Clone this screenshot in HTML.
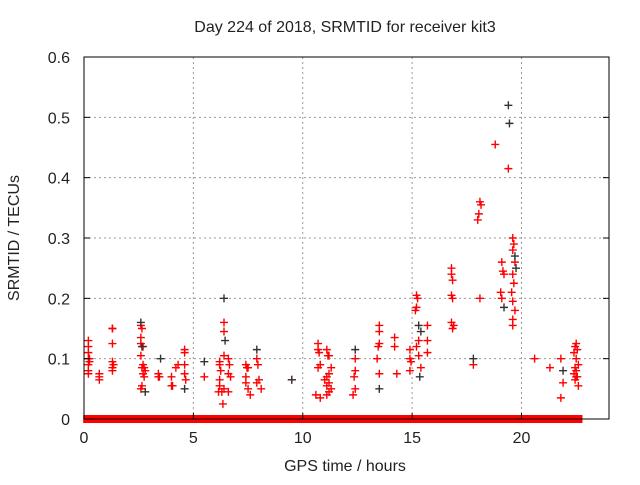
<!DOCTYPE html>
<html><head><meta charset="utf-8"><style>
body{margin:0;background:#fff;}
svg text{font-family:"Liberation Sans",sans-serif;font-size:16px;fill:#222;}
</style></head><body>
<svg width="640" height="480">
<rect width="640" height="480" fill="#fff"/>
<g id="grid"></g><g id="marks"></g><g id="axes"></g>
<text x="345" y="32" text-anchor="middle">Day 224 of 2018, SRMTID for receiver kit3</text>
<text x="345" y="471" text-anchor="middle">GPS time / hours</text>
<text transform="translate(19,238) rotate(-90)" text-anchor="middle">SRMTID / TECUs</text>
</svg>
<script>
const xTicks=[0,5,10,15,20];
const yTicks=[0,0.1,0.2,0.3,0.4,0.5,0.6];
const yLabels=["0","0.1","0.2","0.3","0.4","0.5","0.6"];
const redT=[0.2,0.2,0.2,0.2,0.25,0.25,0.2,0.2,0.2,0.7,0.7,0.7,1.3,1.3,1.3,1.3,1.35,1.3,1.3,2.6,2.65,2.6,2.6,2.7,2.6,2.7,2.65,2.75,2.8,2.7,2.75,2.65,2.6,3.4,3.4,3.45,4.0,4.0,4.05,4.2,4.3,4.6,4.6,4.6,4.6,4.65,6.2,6.2,6.25,6.2,6.2,6.15,6.3,6.4,6.4,6.4,6.4,6.35,6.6,6.65,6.6,6.7,6.6,7.4,7.45,7.5,7.4,7.4,7.5,7.6,7.9,7.95,8.0,7.9,8.1,9.5,5.5,10.7,10.7,10.75,10.8,10.7,10.6,10.8,11.1,11.2,11.15,11.3,11.2,11.1,11.0,11.2,11.1,11.3,11.2,11.1,12.4,12.4,12.35,12.4,12.3,13.5,13.5,13.5,13.45,13.4,13.5,14.2,14.2,14.3,14.9,14.9,14.95,14.9,15.2,15.25,15.2,15.15,15.3,15.2,15.3,15.4,15.7,15.7,15.7,16.8,16.8,16.85,16.8,16.85,16.8,16.9,16.85,17.8,18.1,18.15,18.05,18.0,18.1,18.8,19.4,19.1,19.15,19.2,19.05,19.1,19.6,19.65,19.6,19.7,19.6,19.65,19.55,19.6,19.7,19.6,19.6,20.6,21.3,21.8,21.9,21.8,22.5,22.45,22.55,22.4,22.5,22.6,22.45,22.5,22.4,22.55,22.5,22.45,22.6];
const redV=[0.13,0.12,0.11,0.10,0.10,0.095,0.09,0.08,0.075,0.075,0.07,0.065,0.15,0.15,0.125,0.095,0.09,0.085,0.08,0.155,0.15,0.135,0.125,0.12,0.105,0.09,0.085,0.085,0.08,0.075,0.07,0.055,0.05,0.075,0.07,0.07,0.07,0.055,0.055,0.085,0.09,0.115,0.11,0.09,0.075,0.065,0.095,0.09,0.08,0.065,0.055,0.045,0.045,0.16,0.145,0.105,0.05,0.025,0.1,0.09,0.075,0.07,0.045,0.09,0.085,0.085,0.07,0.06,0.05,0.04,0.1,0.09,0.065,0.06,0.05,0.065,0.07,0.125,0.115,0.11,0.09,0.085,0.04,0.035,0.115,0.105,0.105,0.085,0.075,0.07,0.065,0.06,0.055,0.05,0.045,0.04,0.1,0.08,0.07,0.05,0.04,0.155,0.145,0.125,0.12,0.1,0.075,0.135,0.12,0.075,0.115,0.1,0.095,0.08,0.205,0.2,0.185,0.18,0.13,0.12,0.105,0.085,0.155,0.13,0.11,0.25,0.24,0.23,0.205,0.2,0.16,0.155,0.15,0.09,0.36,0.355,0.34,0.33,0.2,0.455,0.415,0.26,0.245,0.24,0.21,0.2,0.3,0.29,0.28,0.26,0.24,0.225,0.21,0.195,0.18,0.165,0.155,0.1,0.085,0.1,0.06,0.035,0.125,0.12,0.115,0.11,0.1,0.09,0.085,0.08,0.075,0.07,0.07,0.065,0.055];
const blackT=[2.6,2.65,2.8,3.5,4.6,5.5,6.4,6.45,7.9,9.5,12.4,13.5,15.3,15.4,15.35,17.8,19.4,19.45,19.2,19.7,19.75,21.9];
const blackV=[0.16,0.12,0.045,0.1,0.05,0.095,0.2,0.13,0.115,0.065,0.115,0.05,0.155,0.145,0.07,0.1,0.52,0.49,0.185,0.27,0.25,0.08];
const zeroStart=[0.1,4.8,6.2,7.7,11.1,12.3,15.0,17.5,19.8,22.15];
const zeroEnd=[4.6,6.1,7.6,11.0,12.2,14.9,17.4,19.7,22.0,22.65];
const NS="http://www.w3.org/2000/svg";
const L=84,R=609,T=57,B=419,XMAX=24,YMAX=0.6;
const xs=v=>L+v/XMAX*(R-L), ys=v=>B-v/YMAX*(B-T);
function mk(tag,attrs,parent){const e=document.createElementNS(NS,tag);for(const k in attrs)e.setAttribute(k,attrs[k]);document.getElementById(parent).appendChild(e);return e;}
xTicks.forEach(t=>{
 if(t>0){const g=mk('line',{x1:xs(t),x2:xs(t),y1:T,y2:B,stroke:'#999','stroke-dasharray':'2,3'},'grid');
 
 }
 const tk=mk('line',{x1:xs(t),x2:xs(t),y1:B,y2:B-6,stroke:'#000'},'axes');
 
 
 const tx=mk('text',{x:xs(t),y:B+24,'text-anchor':'middle'},'axes');tx.textContent=t;
 
 
});
yTicks.forEach((t,i)=>{
 if(t>0&&t<0.6){const g=mk('line',{x1:L,x2:R,y1:ys(t),y2:ys(t),stroke:'#999','stroke-dasharray':'2,3'},'grid');
 
 }
 const tk=mk('line',{x1:L,x2:L+6,y1:ys(t),y2:ys(t),stroke:'#000'},'axes');
 
 
 const tk2=mk('line',{x1:R,x2:R-6,y1:ys(t),y2:ys(t),stroke:'#000'},'axes');
 
 
 const tx=mk('text',{x:L-14,y:ys(t)+6,'text-anchor':'end'},'axes');tx.textContent=yLabels[i];
 
 
});
const fr=mk('rect',{x:L,y:T,width:R-L,height:B-T,fill:'none',stroke:'#000'},'axes');


zeroStart.forEach((s,i)=>{
 const r=mk('rect',{x:xs(s)-3,y:B-4,width:xs(zeroEnd[i])-xs(s)+6,height:8,fill:'#f00'},'marks');
 
 
});
function cross(t,v,col,name){
 const x=xs(t),y=ys(v);
 const p=mk('path',{d:`M${x-4},${y}H${x+4}M${x},${y-4}V${y+4}`,stroke:col,'stroke-width':1.4,fill:'none'},'marks');
 
 
}
redT.forEach((t,i)=>cross(t,redV[i],'#f00','red-point'));
blackT.forEach((t,i)=>cross(t,blackV[i],'#333','black-point'));
</script>
</body></html>
